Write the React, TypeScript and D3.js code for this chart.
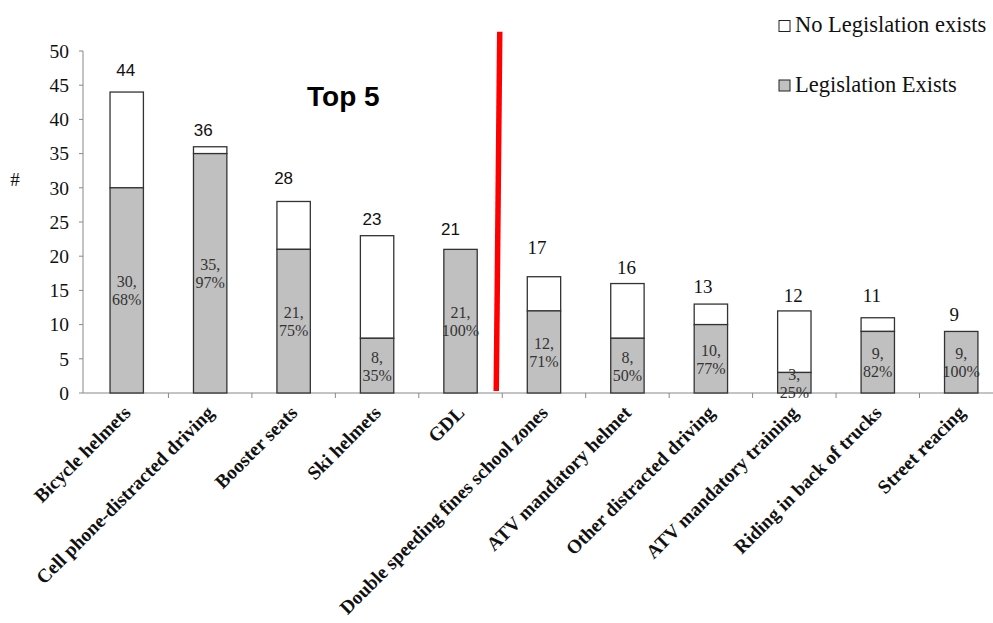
import React from "react";
import * as d3 from "d3";

const categories = [
  "Bicycle helmets",
  "Cell phone-distracted driving",
  "Booster seats",
  "Ski helmets",
  "GDL",
  "Double speeding fines school zones",
  "ATV mandatory helmet",
  "Other distracted driving",
  "ATV mandatory training",
  "Riding in back of trucks",
  "Street reacing",
];
const totals = [44, 36, 28, 23, 21, 17, 16, 13, 12, 11, 9];
const legislationExists = [30, 35, 21, 8, 21, 12, 8, 10, 3, 9, 9];
const yTicks = [0, 5, 10, 15, 20, 25, 30, 35, 40, 45, 50];
const legendLabels = ["No Legislation exists", "Legislation Exists"];

// layout nudges for the hand-placed total labels (dx, gap above bar)
const totalLabelDx = [-1, -7, -10, -5, -10, -7, -1, -8, -1, -6, -7];
const totalLabelGap = [16, 11, 17, 11, 14, 23, 10, 11, 9, 16, 10];

const W = 993;
const H = 623;
const serif = "'Liberation Serif', 'Times New Roman', serif";
const sans = "'Liberation Sans', Arial, sans-serif";

export default function App() {
  const y = d3.scaleLinear().domain([0, 50]).range([393, 51]);
  const step = 83.45;
  const x = d3
    .scaleBand<string>()
    .domain(categories)
    .range([85, 85 + step * categories.length])
    .padding(0);
  const bw = x.bandwidth() * 0.4;
  const axisX = 83;
  const grayFill = "#c0c0c0";
  const stroke = "#333";

  const boundary = x(categories[5])!;

  return (
    <svg
      width={W}
      height={H}
      style={{ position: "absolute", left: 0, top: 0, background: "#fff" }}
    >
      <rect x={0} y={0} width={W} height={H} fill="#fff" />
      {/* Y axis */}
      <line x1={axisX} x2={axisX} y1={y(50)} y2={y(0)} stroke="#888" strokeWidth={1} />
      {yTicks.map((t) => (
        <g key={t}>
          <line x1={axisX - 4} x2={axisX} y1={y(t)} y2={y(t)} stroke="#888" />
          <text
            x={69}
            y={y(t)}
            dy="0.35em"
            textAnchor="end"
            fontFamily={serif}
            fontSize={19.5}
            fill="#111"
          >
            {t}
          </text>
        </g>
      ))}
      <text x={15} y={186} textAnchor="middle" fontFamily={serif} fontSize={19} fill="#111">
        #
      </text>

      {/* X axis */}
      <line x1={axisX} x2={W} y1={y(0)} y2={y(0)} stroke="#888" strokeWidth={1} />
      {categories.map((c, i) =>
        i === 0 ? null : (
          <line key={c} x1={x(c)!} x2={x(c)!} y1={y(0)} y2={y(0) + 5} stroke="#888" />
        )
      )}

      {/* Bars */}
      {categories.map((c, i) => {
        const cx = x(c)! + x.bandwidth() / 2;
        const tot = totals[i];
        const leg = legislationExists[i];
        const pct = Math.round((leg / tot) * 100);
        const mid = (y(0) + y(leg)) / 2;
        return (
          <g key={c}>
            {tot > leg && (
              <rect
                x={cx - bw / 2}
                y={y(tot)}
                width={bw}
                height={y(leg) - y(tot)}
                fill="#fff"
                stroke={stroke}
                strokeWidth={1.3}
              />
            )}
            <rect
              x={cx - bw / 2}
              y={y(leg)}
              width={bw}
              height={y(0) - y(leg)}
              fill={grayFill}
              stroke={stroke}
              strokeWidth={1.3}
            />
            <text
              x={cx}
              textAnchor="middle"
              fontFamily={serif}
              fontSize={16}
              fill="#333"
            >
              <tspan x={cx} y={mid - 3}>{`${leg},`}</tspan>
              <tspan x={cx} y={mid + 15}>{`${pct}%`}</tspan>
            </text>
            <text
              x={cx + totalLabelDx[i]}
              y={y(tot) - totalLabelGap[i]}
              textAnchor="middle"
              fontFamily={i < 5 ? sans : serif}
              fontSize={i < 5 ? 17 : 19}
              fill="#111"
            >
              {tot}
            </text>
            <text
              transform={`translate(${cx + 5},${y(0) + 21}) rotate(-45)`}
              textAnchor="end"
              fontFamily={serif}
              fontWeight="bold"
              fontSize={19.3}
              fill="#111"
            >
              {c}
            </text>
          </g>
        );
      })}

      {/* Red divider */}
      <line
        x1={boundary - 2.5}
        y1={y(52.8)}
        x2={boundary - 6}
        y2={y(0.3)}
        stroke="#ff0000"
        strokeWidth={5.5}
      />

      {/* Top 5 */}
      <text x={307} y={106} fontFamily={sans} fontWeight="bold" fontSize={28} fill="#000">
        Top 5
      </text>

      {/* Legend */}
      {legendLabels.map((l, i) => (
        <g key={l} transform={`translate(779, ${20.5 + i * 59.5})`}>
          <rect
            width={11}
            height={11}
            fill={i === 0 ? "#fff" : grayFill}
            stroke="#222"
            strokeWidth={1}
          />
          <text x={16} y={11.5} fontFamily={serif} fontSize={22.5} fill="#111">
            {l}
          </text>
        </g>
      ))}
    </svg>
  );
}
